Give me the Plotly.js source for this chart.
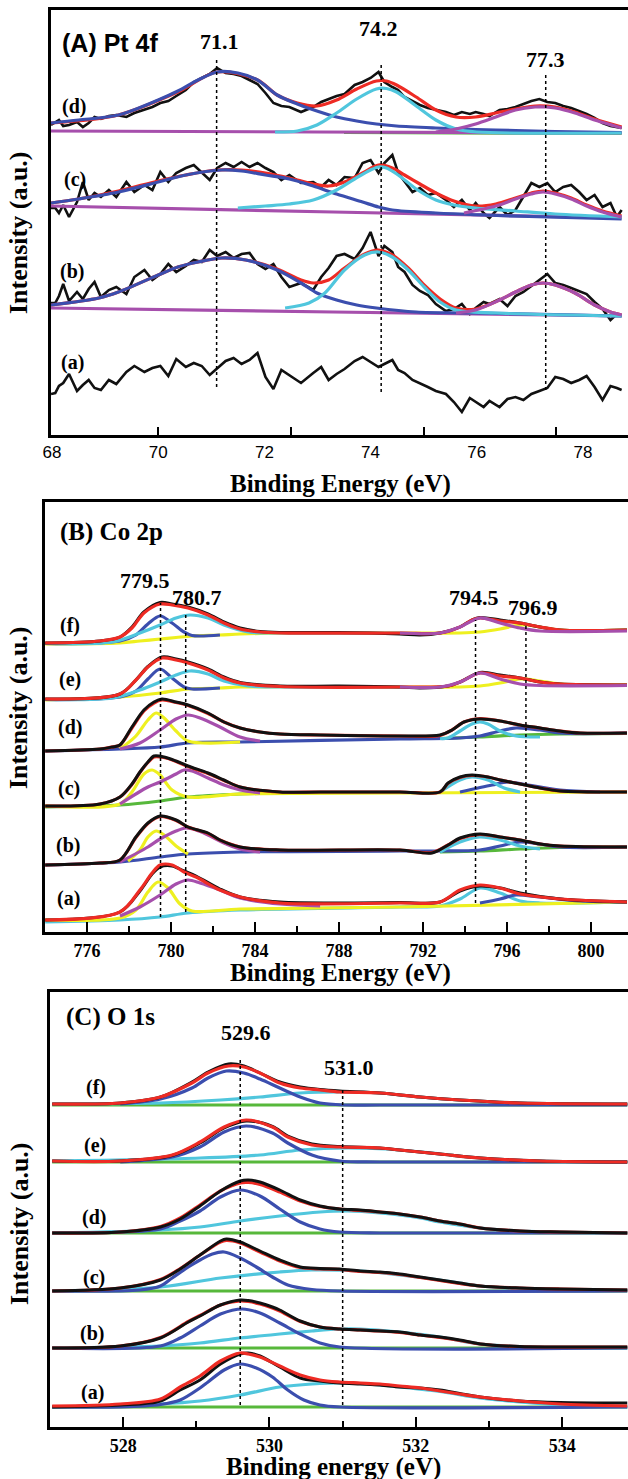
<!DOCTYPE html>
<html>
<head>
<meta charset="utf-8">
<script src="https://cdn.plot.ly/plotly-3.0.1.min.js"></script>
<style>html,body{margin:0;padding:0;background:#fff;}#chart{width:628px;height:1479px;}</style>
</head>
<body>
<div id="chart"></div>
<script>
// ===================== DATA =====================
// ---- Panel A: Pt 4f (binding energy eV, intensity a.u.) ----
const A_X = [67.98,68.06,68.13,68.21,68.32,68.47,68.58,68.69,68.80,68.92,
 69.07,69.21,69.40,69.55,69.74,69.89,70.04,70.19,70.34,70.52,
 70.67,70.82,70.97,71.11,71.27,71.42,71.57,71.72,71.87,72.02,
 72.17,72.32,72.47,72.69,72.92,73.07,73.21,73.36,73.51,73.70,
 73.85,74.00,74.15,74.26,74.41,74.52,74.64,74.79,74.93,75.08,
 75.23,75.42,75.57,75.72,75.87,75.98,76.13,76.24,76.43,76.58,
 76.73,76.88,77.03,77.18,77.33,77.48,77.63,77.78,77.93,78.07,
 78.22,78.37,78.52,78.64,78.73];
const A_d_raw = [307,310,312,306,307,310,305,309,315,313,
 316,317,315,319,322,325,329,331,336,342,
 350,354,358,364,359,358,356,352,348,339,
 329,326,325,320,325,330,333,336,338,347,
 350,354,360,350,345,342,335,331,327,324,
 322,320,317,320,318,320,318,316,322,323,
 325,328,331,333,330,329,326,324,321,318,
 314,309,306,305,304];
const A_c_raw = [224,224,219,227,215,230,250,232,239,235,
 242,235,250,240,247,242,260,250,259,264,
 267,259,252,264,269,265,270,265,269,264,
 260,252,257,249,250,245,252,247,255,254,
 269,272,259,269,277,259,250,240,244,237,
 239,232,225,232,222,229,219,214,225,217,
 222,235,249,245,249,240,245,247,240,232,
 237,225,229,215,222];
const A_b_raw = [129,129,136,148,131,140,133,143,150,135,
 142,145,138,155,162,152,158,168,160,166,
 172,170,182,176,180,174,178,179,168,163,
 168,155,145,149,142,155,164,176,178,173,
 184,200,176,186,180,165,160,147,141,137,
 128,121,123,128,118,124,130,128,133,126,
 136,140,146,152,158,149,147,144,141,138,
 130,123,112,118,116];
const A_a_raw = [38,39,46,49,58,41,47,52,44,42,
 52,48,60,66,60,64,66,56,73,65,
 69,66,57,64,71,74,68,72,79,55,
 43,62,57,49,59,65,52,58,63,71,
 75,70,65,68,72,62,59,52,49,45,
 41,38,30,20,34,30,25,31,25,33,
 35,32,38,41,44,55,53,49,52,56,
 45,32,46,44,42];
// (d) fits
const A_d_base_x = [67.98,73.0,78.73], A_d_base_y = [301,300,299];
const A_d_green_x = [73.5,78.73], A_d_green_y = [299.5,298.5];
const A_d_blue_x = [67.98,68.5,69.25,70.0,70.37,70.75,71.11,71.5,71.87,72.24,72.62,72.99,73.36,73.74,74.11,74.49,75.23,75.98,76.73,77.48,78.73];
const A_d_blue_y = [309,312,317,332,341,352,360,359,352,337,328,321,315,311,308,306,304,302.5,301.5,300.5,299.5];
const A_d_cyan_x = [72.2,72.62,72.99,73.36,73.74,74.11,74.3,74.49,74.86,75.23,75.61,76.0,78.73];
const A_d_cyan_y = [300,301,307,319,333,343,343.5,340,326,312,303,300,299];
const A_d_mag_x = [75.23,75.61,75.98,76.36,76.73,77.1,77.3,77.48,77.85,78.22,78.6,78.73];
const A_d_mag_y = [300,303,308,315,322,325,325,324,319,312,306,304];
const A_d_red_x = [67.98,69.25,70.37,71.11,71.87,72.24,72.62,72.99,73.36,73.74,74.11,74.3,74.49,74.86,75.23,75.61,75.98,76.36,76.73,77.1,77.48,77.85,78.22,78.73];
const A_d_red_y = [309,317,340,360,352,337,329,326,332,343,351,351,347,335,322,315,315,319,323,326,325,320,313,305];
// (c) fits
const A_c_base_x = [67.98,73.3,78.73], A_c_base_y = [226,220,214];
const A_c_blue_x = [67.98,68.5,69.25,70.0,70.52,71.2,71.57,72.02,72.47,72.92,73.36,73.85,74.15,74.41,75.23,76.13,77.33,78.73];
const A_c_blue_y = [229,233,240,250,257,262,261,257,253,246,238,230,225,222,219,217,215,213];
const A_c_cyan_x = [71.5,72.02,72.47,72.92,73.36,73.7,74.0,74.15,74.3,74.52,74.86,75.23,75.57,75.98,76.73,77.48,78.73];
const A_c_cyan_y = [224,226,228,232,242,253,262,265,264,257,243,232,227,224,221,218,215];
const A_c_mag_x = [75.76,76.36,76.73,77.03,77.25,77.48,77.78,78.07,78.37,78.73];
const A_c_mag_y = [219,226,233,238,240,238,233,226,220,215];
const A_c_red_x = [67.98,68.5,69.25,70.0,70.52,71.11,71.57,72.02,72.47,72.92,73.21,73.51,73.85,74.15,74.41,74.64,74.93,75.23,75.57,75.98,76.36,76.73,77.03,77.25,77.48,77.78,78.07,78.37,78.73];
const A_c_red_y = [229,233,241,251,257,262,262,259,254,248,246,250,259,267,264,257,248,239,231,226,228,234,239,241,239,234,227,221,216];
// (b) fits
const A_b_base_x = [67.98,73.3,78.73], A_b_base_y = [124,120,116];
const A_b_blue_x = [67.98,68.88,69.25,70.0,70.37,70.75,71.2,71.65,72.24,72.69,72.99,73.36,73.74,74.11,74.86,75.98,78.73];
const A_b_blue_y = [127,134,140,157,165,170,174,172,162,149,139,132,127,124,120,119,116];
const A_b_cyan_x = [72.39,72.84,73.14,73.51,73.89,74.15,74.41,74.71,75.01,75.31,75.61,76.36,78.73];
const A_b_cyan_y = [124,129,139,162,177,180,175,162,145,130,122,119,116];
const A_b_mag_x = [75.61,75.98,76.43,76.73,77.03,77.25,77.48,77.85,78.22,78.52,78.73];
const A_b_mag_y = [119,122,132,140,147,149,147,139,127,120,117];
const A_b_red_x = [67.98,68.88,69.25,70.0,70.37,70.75,71.2,71.65,72.24,72.69,72.92,73.21,73.51,73.89,74.15,74.41,74.71,75.01,75.31,75.61,75.98,76.43,76.73,77.03,77.25,77.48,77.85,78.22,78.52,78.73];
const A_b_red_y = [127,134,140,157,165,170,174,172,163,152,149,152,164,178,182,177,164,147,133,124,123,132,140,147,149,147,139,127,120,117];

// ---- Panel B: Co 2p ----
const B_f_yel_x = [774.01,777.57,778.52,779.48,780.24,781.0,782.33,783.29,785.19,790.9,793.76,794.71,795.67,796.43,796.9,797.57,798.52,801.71];
const B_f_yel_y = [288,289,291,293,294.5,296,297,298,299,299,299,300,303,306.5,307,305,302,302];
const B_f_blue_x = [774.01,777.57,778.33,778.9,779.48,780.05,780.62,781.0,782.33];
const B_f_blue_y = [288.5,291,297,308,316,309,300,296.5,297];
const B_f_cyan_x = [774.01,777.19,778.52,779.48,780.24,780.9,781.76,782.52,783.67,785.19,790.9];
const B_f_cyan_y = [288.5,290,299,307,314,317,314,307,300,299,299];
const B_f_mag_x = [790.9,792.81,793.76,794.71,795.67,796.62,797.57,801.71];
const B_f_mag_y = [299,299,305,314,309,304,301,301];
const B_f_red_x = [774.01,776.62,777.57,778.14,778.71,779.48,780.05,780.81,781.76,782.52,783.29,784.24,785.19,790.9,792.81,793.76,794.33,794.71,795.67,796.62,797.57,798.52,801.71];
const B_f_red_y = [289,291,295,304,319,328,327,324,317,309,303,300,299,299,299,305,312,314,311,309,305,302,302];
const B_f_raw_x = [774.01,776.62,777.57,778.14,778.71,779.48,780.05,780.81,781.76,782.52,783.29,784.24,785.19,788.0,790.9,791.86,792.81,793.76,794.33,794.71,795.67,796.62,797.57,798.52,801.71];
const B_f_raw_y = [289,291,295,305,320,329.5,328,325,318,310,304,300.5,299.5,299.5,298,297,299,305,312,314.5,312,309,305,302,302];

const B_e_yel_x = [774.01,777.57,779.48,780.81,782.33,783.29,790.9,793.76,794.71,795.67,796.62,797.57,798.52,801.71];
const B_e_yel_y = [232,235,239,243,244,245,245,245,246,249,253,251,248,247];
const B_e_blue_x = [774.01,777.57,778.33,778.9,779.48,780.05,780.62,781.0,782.33];
const B_e_blue_y = [232.5,235,241,253,263,254,245,243,244];
const B_e_cyan_x = [774.01,777.19,778.52,779.48,780.24,780.9,781.76,782.52,783.67,785.19,790.9];
const B_e_cyan_y = [232.5,234,242,250,257,261,258,251,246,245,245];
const B_e_mag_x = [790.9,792.81,793.76,794.71,795.67,796.62,797.57,801.71];
const B_e_mag_y = [245,245,250,259,253,248,246.5,246.5];
const B_e_red_x = [774.01,777.57,778.33,778.9,779.57,780.24,780.81,781.76,782.52,783.29,785.19,790.9,793.19,793.76,794.71,795.67,796.62,797.57,798.52,801.71];
const B_e_red_y = [233,238,252,265,274,272,269,262,254,249,245.5,245,246,250,259,256,254,250,248,247];
const B_e_raw_x = [774.01,777.57,778.33,778.9,779.57,780.24,780.81,781.76,782.52,783.29,785.19,788.0,790.9,791.86,793.19,793.76,794.71,795.67,796.62,797.57,798.52,801.71];
const B_e_raw_y = [233,238,252,265.5,275,273,270,263,255,249.5,246,246,245,244,246,250,259.5,257,254,250,248,247];

const B_d_blue_x = [774.01,777.57,779.48,780.81,783.29,790.9,793.76,794.71,795.67,796.43,797.57,798.52,801.71];
const B_d_blue_y = [181,183,185,189,190,193,194,196,201,204,202,199,199];
const B_d_green_x = [792.81,794.71,796.62,798.52,801.71];
const B_d_green_y = [193.5,195,197,198,198.5];
const B_d_yel_x = [777.57,778.33,778.9,779.29,779.67,780.24,780.81,783.29];
const B_d_yel_y = [183,196,212,219,214,201,191,190];
const B_d_mag_x = [777.57,778.52,779.48,780.24,780.81,781.38,782.33,783.29,784.24];
const B_d_mag_y = [183,189,202,213,217,214,205,195,191];
const B_d_cyan_x = [792.81,793.19,793.76,794.33,794.71,795.09,795.67,796.43,797.57];
const B_d_cyan_y = [193.5,194,201,208,210,208,201,196,195];
const B_d_x = [774.01,776.62,777.19,777.57,778.14,778.71,779.19,779.57,780.24,780.81,781.76,782.52,783.29,784.24,785.19,787.1,790.9,792.81,793.38,793.95,794.71,795.67,796.62,797.57,798.52,799.48,801.71];
const B_d_raw = [181,183,185,187,205,222,230,233,230,227,219,210,204,200,198,197,196,197,202,210,213,211,207,204,201,199,199];
const B_d_fit = [181,183,185,187,204,221,229,232,229.5,226.5,218.5,210,204,200,198,197,196,196.5,202,210,213.5,211,207,204,201,199,199];

const B_c_green_x = [774.01,777.57,779.48,780.81,783.29,785.19];
const B_c_green_y = [125,127,131,135,138,139];
const B_c_yel_x = [774.01,777.57,778.14,778.71,779.1,779.48,780.05,780.81,783.29,790.9,801.71];
const B_c_yel_y = [126,128,140,158,162,157,142,135,138,139,140];
const B_c_mag_x = [777.57,778.9,779.48,780.24,780.62,781.0,781.76,782.52,783.29,784.24];
const B_c_mag_y = [128,145,150,158,162,161,154,147,142,139];
const B_c_cyan_x = [792.81,793.76,794.33,795.09,795.86,796.62];
const B_c_cyan_y = [140,152,155,152,144,140];
const B_c_blue_x = [793.76,795.29,796.05,797.0,798.52,800.43];
const B_c_blue_y = [140,147,150,147,142,140];
const B_c_x = [774.01,776.62,777.57,778.14,778.52,778.9,779.19,779.67,780.24,780.81,781.76,782.52,783.29,785.19,787.1,790.9,792.81,793.19,793.76,794.33,795.09,795.67,796.62,797.57,798.52,801.71];
const B_c_raw = [126,128,135,148,160,170,176,175,171,166,159,152,145,140,140,140,140,149,155,157,155,152,148,144,141,140];
const B_c_fit = [126,128,135,147.5,159.5,169.5,175,174.5,170.5,165.5,158.5,151.5,145,140,140,140,140,148.5,154.5,156.5,155,152,148,144,141,140];

const B_b_blue_x = [774.01,777.57,779.48,780.81,783.29,790.9,792.81,794.71,795.67,796.62,797.57,798.52,801.71];
const B_b_blue_y = [67,70,75,78,80,81,81,82,86,90,88,85,85];
const B_b_green_x = [792.81,794.71,796.62,798.52,801.71];
const B_b_green_y = [80,81,83,84.5,85];
const B_b_yel_x = [777.95,778.52,778.9,779.29,779.67,780.24,780.81];
const B_b_yel_y = [71,82,95,101,97,86,78];
const B_b_mag_x = [777.57,778.9,779.48,780.24,780.71,781.19,781.76,782.52,783.29,784.24];
const B_b_mag_y = [70,85,93,101,104,102,97,89,83,80];
const B_b_cyan_x = [792.81,793.76,794.71,795.67,796.62,797.57];
const B_b_cyan_y = [80,90,95,92,86,83];
const B_b_x = [774.01,776.62,777.57,778.33,778.9,779.48,780.24,780.81,781.76,782.33,783.29,785.19,790.9,792.43,793.19,793.76,794.71,795.67,796.62,797.57,798.52,801.71];
const B_b_raw = [67,69,72,95,109,116,112,105,99,92,85,82,82,79,87,94,98,95,92,88,86,85];
const B_b_fit = [67,69,72,94.5,108.5,115.5,111.5,105,98.5,92,85,82,82,79.5,87,93.5,97.5,95,92,88,86,85];

const B_a_cyan_x = [774.01,777.57,779.48,780.81,783.29,790.9,792.81,793.76,794.71,795.67,796.62,797.57,801.71];
const B_a_cyan_y = [10,12,15,19,22,25,26,33,44,39,31,29,30];
const B_a_yel_x = [774.01,777.57,778.33,778.9,779.38,779.86,780.43,781.0,783.29,790.9,801.71];
const B_a_yel_y = [12,14,22,40,50,44,28,21,23,25,30];
const B_a_mag_x = [777.57,778.52,779.48,780.24,780.81,781.38,782.33,783.29,785.19,787.1];
const B_a_mag_y = [16,25,37,48,52,49,42,34,28,26];
const B_a_blue_x = [794.71,795.67,796.43,797.57,799.48,801.71];
const B_a_blue_y = [29,33,37,35,31,30];
const B_a_x = [774.01,777.57,778.52,779.1,779.48,780.05,780.62,781.19,782.33,783.29,785.19,790.9,792.81,793.76,794.71,795.67,796.62,798.52,801.71];
const B_a_fit = [12,20,42,59,67,67,60,55,42,35,29,29,30,42,47,44,38,33,30];
const B_a_raw = [12,20,41,58,65,66,61,56,43,35,30,29.5,30,41,46,44,39,33,30];

// ---- Panel C: O 1s ----
const C_ends = [527.03,534.89];
const C_f_base = [322,322], C_e_base = [265,265], C_d_base = [194,194], C_c_base = [136,136], C_b_base = [79,79], C_a_base = [20,20];
const C_f_blue_x = [527.96,528.51,528.94,529.16,529.41,529.65,529.87,530.14,530.42,530.69,531.02,531.51,534.89];
const C_f_blue_y = [323,328,339,349,356,354,348,339,330,324,322,322,322];
const C_f_cyan_x = [527.03,528.51,529.33,529.87,530.42,530.96,531.51,532.06,532.6,533.42,534.89];
const C_f_cyan_y = [323,324,327,330,334,335,334,330,327,324,323];
const C_f_x = [527.03,527.96,528.51,528.94,529.16,529.44,529.65,529.87,530.14,530.42,530.69,530.96,531.51,532.06,532.6,533.42,534.89];
const C_f_fit = [323,324,330,344,354,361,360,354,344,339,337,335,334,330,327,324,323];
const C_f_raw = [323,324,330,345,355,363,361,354,345,340,337.5,336,334,330,327,324,323];

const C_e_blue_x = [527.96,528.67,529.05,529.38,529.68,530.04,530.25,530.58,530.96,531.51,534.89];
const C_e_blue_y = [265,270,280,295,301,294,284,272,266,265,265];
const C_e_cyan_x = [527.03,529.05,529.87,530.42,531.07,531.78,532.33,532.88,533.7,534.89];
const C_e_cyan_y = [266,269,272,277,279,277,273,269,266,265];
const C_e_x = [527.03,527.96,528.67,529.05,529.38,529.68,530.04,530.25,530.58,530.96,531.51,531.78,532.33,532.88,533.7,534.89];
const C_e_fit = [266,266,272,285,300,307,300,290,282,280,279,277,273,269,266,265];
const C_e_raw = [266,266,271.5,284,299,306,300.5,291,283,280.5,279,277,273,269,266,265];

const C_d_blue_x = [527.03,528.51,528.78,529.05,529.33,529.6,529.87,530.14,530.42,530.69,530.96,531.51,534.89];
const C_d_blue_y = [194,198,206,216,230,237,231,218,205,198,195,194,194];
const C_d_cyan_x = [527.03,528.51,529.05,529.6,530.14,530.69,531.07,531.51,532.06,532.33,532.88,533.42,534.89];
const C_d_cyan_y = [194,197,200,206,211,215,216,214,209,205,199,196,194];
const C_d_x = [527.03,527.96,528.51,528.78,529.05,529.33,529.6,529.71,529.87,530.14,530.42,530.69,530.96,531.24,531.51,531.78,532.06,532.33,532.6,532.88,533.42,533.97,534.89];
const C_d_raw = [194,195,200,208,221,236,246,247,245,237,227,221,218,217,215,213,210,206,203,199,196,195,194];
const C_d_fit = [194,195,200.5,209,222,236,244,244.5,242.5,235,226,220.5,218,216.5,215,213,210,206,203,199,196,195,194];

const C_c_blue_x = [527.03,528.23,528.51,528.67,528.89,529.05,529.22,529.38,529.6,529.82,530.04,530.25,530.58,530.96,534.89];
const C_c_blue_y = [136,137,141,149,160,167,173,175,169,160,150,142,137.5,136,136];
const C_c_cyan_x = [527.03,528.51,529.33,530.14,530.58,531.24,531.78,532.33,532.88,533.7,534.89];
const C_c_cyan_y = [136,140,149,155,157,156,152,147,141,138,137];
const C_c_x = [527.03,527.96,528.51,528.78,529.05,529.33,529.41,529.6,529.87,530.14,530.42,530.69,530.96,531.24,531.51,531.78,532.06,532.33,532.6,532.88,533.42,533.97,534.89];
const C_c_raw = [136,139,147,158,172,186,188,185,176,167,160,158.5,158,156,155,153,150,147,144,141,139,138,137];
const C_c_fit = [136,139,147.5,158.5,172,185,186.5,184,175,166,159.5,158,157.5,155.5,154.5,152.5,149.5,146.5,143.5,141,139,138,137];

const C_b_blue_x = [527.03,528.51,528.78,529.05,529.33,529.63,529.87,530.14,530.42,530.69,530.96,534.89];
const C_b_blue_y = [79,81,89,101,113,118,114,104,93,84,80,79];
const C_b_cyan_x = [527.03,528.51,529.05,529.6,530.14,530.58,530.96,531.24,531.78,532.33,532.88,533.42,534.89];
const C_b_cyan_y = [79,81,84,89,93,96,98,98,95,90,83,80.5,79];
const C_b_x = [527.03,527.96,528.51,528.89,529.05,529.33,529.6,529.71,529.87,530.04,530.14,530.42,530.69,530.96,531.24,531.51,531.78,532.06,532.33,532.6,532.88,533.42,534.89];
const C_b_raw = [79,81,89,105,111,122,127,126.5,124,120,117,106,100,98,97,96,95,92,90,87,83,80.5,80];
const C_b_fit = [79,81,89.5,105.5,111.5,122,126,125.5,123,119,116,105.5,100,98,97,96,94.5,92,89.5,86.5,83,80.5,80];

const C_a_blue_x = [527.03,527.96,528.51,528.78,529.05,529.16,529.38,529.6,529.82,530.04,530.25,530.47,530.69,530.96,534.89];
const C_a_blue_y = [20,20,22.5,27,39,45,57,63,59,50,37,27,22,20,20];
const C_a_cyan_x = [527.03,528.51,529.05,529.6,530.14,530.58,531.02,531.51,531.78,532.33,532.88,533.42,533.97,534.89];
const C_a_cyan_y = [20,23,26,32,40,43,44,42,40,35.5,29,25,22,20];
const C_a_x = [527.03,527.96,528.51,528.78,529.05,529.33,529.6,529.71,529.87,530.14,530.42,530.69,530.96,531.24,531.51,531.78,532.06,532.33,532.6,532.88,533.42,533.97,534.89];
const C_a_raw = [20,22,26,37,47,63,73,74,71,60,49,46,44,43,42,40,39,37,33.5,30,26,24.5,24];
const C_a_fit = [21,23,28,40,51,66,74,73,70,61,52,47,45,44,43,41,39,36,33,30,26,23,21];

// Peak positions and labels
const PEAKS_A = [71.1, 74.2, 77.3];
const PEAKS_B = [779.5, 780.7, 794.5, 796.9];
const PEAKS_C = [529.6, 531.0];
const LABELS_A = ['71.1','74.2','77.3'];
const LABELS_B = ['779.5','780.7','794.5','796.9'];
const LABELS_C = ['529.6','531.0'];
const SAMPLES_A = ['(d)','(c)','(b)','(a)'];
const SAMPLES_BC = ['(f)','(e)','(d)','(c)','(b)','(a)'];
const TICKS_A = [68,70,72,74,76,78];
const MARKS_A = [70,72.5,75,77.5];

// ===================== STYLE =====================
const COL = {k:'#111111', red:'#ee2b24', blue:'#3b4eae', cyan:'#50c6dd', mag:'#a64fac', green:'#57b83b', yel:'#eef020'};
const traces = [];
function L(x, y, c, w, xa, ya, shape){
  traces.push({type:'scatter', mode:'lines', x:x, y:y, xaxis:xa, yaxis:ya,
    line:{color:c, width:w, shape:shape||'spline', smoothing:0.9}, hoverinfo:'skip', showlegend:false});
}
const FW = 3.2;
// ---- Panel A ----
const pa = ['x','y'];
L(A_d_green_x, A_d_green_y, COL.green, FW, ...pa);
L(A_d_base_x, A_d_base_y, COL.mag, FW, ...pa);
L(A_X, A_d_raw, COL.k, 2.6, pa[0], pa[1], 'linear');
L(A_d_red_x, A_d_red_y, COL.red, FW, ...pa);
L(A_d_blue_x, A_d_blue_y, COL.blue, FW, ...pa);
L(A_d_cyan_x, A_d_cyan_y, COL.cyan, FW, ...pa);
L(A_d_mag_x, A_d_mag_y, COL.mag, FW, ...pa);
L(A_X, A_c_raw, COL.k, 2.6, pa[0], pa[1], 'linear');
L(A_c_base_x, A_c_base_y, COL.mag, FW, ...pa);
L(A_c_red_x, A_c_red_y, COL.red, FW, ...pa);
L(A_c_blue_x, A_c_blue_y, COL.blue, FW, ...pa);
L(A_c_cyan_x, A_c_cyan_y, COL.cyan, FW, ...pa);
L(A_c_mag_x, A_c_mag_y, COL.mag, FW, ...pa);
L(A_X, A_b_raw, COL.k, 2.6, pa[0], pa[1], 'linear');
L(A_b_base_x, A_b_base_y, COL.mag, FW, ...pa);
L(A_b_red_x, A_b_red_y, COL.red, FW, ...pa);
L(A_b_blue_x, A_b_blue_y, COL.blue, FW, ...pa);
L(A_b_cyan_x, A_b_cyan_y, COL.cyan, FW, ...pa);
L(A_b_mag_x, A_b_mag_y, COL.mag, FW, ...pa);
L(A_X, A_a_raw, COL.k, 2.6, pa[0], pa[1], 'linear');
traces.push({type:'scatter', mode:'lines', x:[], y:[], xaxis:'x4', yaxis:'y', showlegend:false, hoverinfo:'skip'});

// ---- Panel B ----
const pb = ['x2','y2'];
L(B_f_yel_x, B_f_yel_y, COL.yel, FW, ...pb);
L(B_f_blue_x, B_f_blue_y, COL.blue, FW, ...pb);
L(B_f_cyan_x, B_f_cyan_y, COL.cyan, FW, ...pb);
L(B_f_raw_x, B_f_raw_y, COL.k, 3, ...pb);
L(B_f_red_x, B_f_red_y, COL.red, FW, ...pb);
L(B_f_mag_x, B_f_mag_y, COL.mag, FW, ...pb);
L(B_e_yel_x, B_e_yel_y, COL.yel, FW, ...pb);
L(B_e_blue_x, B_e_blue_y, COL.blue, FW, ...pb);
L(B_e_cyan_x, B_e_cyan_y, COL.cyan, FW, ...pb);
L(B_e_raw_x, B_e_raw_y, COL.k, 3, ...pb);
L(B_e_red_x, B_e_red_y, COL.red, FW, ...pb);
L(B_e_mag_x, B_e_mag_y, COL.mag, FW, ...pb);
L(B_d_green_x, B_d_green_y, COL.green, FW, ...pb);
L(B_d_blue_x, B_d_blue_y, COL.blue, FW, ...pb);
L(B_d_yel_x, B_d_yel_y, COL.yel, FW, ...pb);
L(B_d_mag_x, B_d_mag_y, COL.mag, FW, ...pb);
L(B_d_cyan_x, B_d_cyan_y, COL.cyan, FW, ...pb);
L(B_d_x, B_d_fit, COL.red, FW, ...pb);
L(B_d_x, B_d_raw, COL.k, 3, ...pb);
L(B_c_green_x, B_c_green_y, COL.green, FW, ...pb);
L(B_c_yel_x, B_c_yel_y, COL.yel, FW, ...pb);
L(B_c_mag_x, B_c_mag_y, COL.mag, FW, ...pb);
L(B_c_blue_x, B_c_blue_y, COL.blue, FW, ...pb);
L(B_c_cyan_x, B_c_cyan_y, COL.cyan, FW, ...pb);
L(B_c_x, B_c_fit, COL.red, FW, ...pb);
L(B_c_x, B_c_raw, COL.k, 3, ...pb);
L(B_b_green_x, B_b_green_y, COL.green, FW, ...pb);
L(B_b_blue_x, B_b_blue_y, COL.blue, FW, ...pb);
L(B_b_yel_x, B_b_yel_y, COL.yel, FW, ...pb);
L(B_b_mag_x, B_b_mag_y, COL.mag, FW, ...pb);
L(B_b_cyan_x, B_b_cyan_y, COL.cyan, FW, ...pb);
L(B_b_x, B_b_fit, COL.red, FW, ...pb);
L(B_b_x, B_b_raw, COL.k, 3, ...pb);
L(B_a_cyan_x, B_a_cyan_y, COL.cyan, FW, ...pb);
L(B_a_yel_x, B_a_yel_y, COL.yel, FW, ...pb);
L(B_a_mag_x, B_a_mag_y, COL.mag, FW, ...pb);
L(B_a_blue_x, B_a_blue_y, COL.blue, FW, ...pb);
L(B_a_x, B_a_raw, COL.k, 3, ...pb);
L(B_a_x, B_a_fit, COL.red, FW, ...pb);

// ---- Panel C ----
const pc = ['x3','y3'];
function cset(base, cyx, cyy, blx, bly, x, raw, fit, redTop){
  L(C_ends, base, COL.green, FW, ...pc);
  L(cyx, cyy, COL.cyan, FW, ...pc);
  L(blx, bly, COL.blue, FW, ...pc);
  if (redTop){ L(x, raw, COL.k, 3, ...pc); L(x, fit, COL.red, FW, ...pc); }
  else { L(x, fit, COL.red, FW, ...pc); L(x, raw, COL.k, 3, ...pc); }
}
cset(C_f_base, C_f_cyan_x, C_f_cyan_y, C_f_blue_x, C_f_blue_y, C_f_x, C_f_raw, C_f_fit, true);
cset(C_e_base, C_e_cyan_x, C_e_cyan_y, C_e_blue_x, C_e_blue_y, C_e_x, C_e_raw, C_e_fit, true);
cset(C_d_base, C_d_cyan_x, C_d_cyan_y, C_d_blue_x, C_d_blue_y, C_d_x, C_d_raw, C_d_fit, false);
cset(C_c_base, C_c_cyan_x, C_c_cyan_y, C_c_blue_x, C_c_blue_y, C_c_x, C_c_raw, C_c_fit, false);
cset(C_b_base, C_b_cyan_x, C_b_cyan_y, C_b_blue_x, C_b_blue_y, C_b_x, C_b_raw, C_b_fit, false);
cset(C_a_base, C_a_cyan_x, C_a_cyan_y, C_a_blue_x, C_a_blue_y, C_a_x, C_a_raw, C_a_fit, true);

// ===================== LAYOUT =====================
const W = 628, H = 1479;
const px = v => v / W, py = v => 1 - v / H;
const SERIF = 'Liberation Serif, Times New Roman, serif';
const SANS = 'Liberation Sans, Arial, sans-serif';
const baseY = {showline:true, linecolor:'black', linewidth:3, showticklabels:false, ticks:'', showgrid:false, zeroline:false, fixedrange:true};
const baseX = {showline:true, mirror:true, linecolor:'black', linewidth:3, showgrid:false, zeroline:false, fixedrange:true,
  ticks:'inside', tickcolor:'black', tickwidth:2};

const layout = {
  width:W, height:H, margin:{l:0, r:0, t:0, b:0}, paper_bgcolor:'white', plot_bgcolor:'white', showlegend:false,
  xaxis: Object.assign({}, baseX, {domain:[px(51),1], range:[67.98,78.85], anchor:'y', tickmode:'array', tickvals:TICKS_A,
    ticks:'', tickfont:{family:SANS, size:17, color:'black'}}),
  xaxis4: {overlaying:'x', anchor:'y', range:[67.98,78.85], tickmode:'array', tickvals:MARKS_A, ticks:'inside',
    ticklen:8, tickwidth:2, tickcolor:'black', showticklabels:false, showline:false, showgrid:false, zeroline:false, side:'bottom'},
  yaxis: Object.assign({}, baseY, {domain:[py(435), py(10)], range:[-3,422], anchor:'x'}),
  xaxis2: Object.assign({}, baseX, {domain:[px(45),1], range:[774.0,801.76], anchor:'y2', tick0:776, dtick:4, ticklen:10,
    minor:{dtick:2, tick0:776, ticks:'inside', ticklen:6, tickwidth:2, tickcolor:'black', showgrid:false},
    tickfont:{family:SERIF, size:18, color:'black', weight:700}}),
  yaxis2: Object.assign({}, baseY, {domain:[py(932), py(502)], range:[0,430], anchor:'x2'}),
  xaxis3: Object.assign({}, baseX, {domain:[px(50),1], range:[527.0,534.9], anchor:'y3', tick0:528, dtick:2, ticklen:10,
    minor:{dtick:1, tick0:528, ticks:'inside', ticklen:6, tickwidth:2, tickcolor:'black', showgrid:false},
    tickfont:{family:SERIF, size:18, color:'black', weight:700}}),
  yaxis3: Object.assign({}, baseY, {domain:[py(1427), py(992)], range:[0,435], anchor:'x3'}),
  annotations: [], shapes: []
};

const A = layout.annotations, S = layout.shapes;
function ann(o){ A.push(Object.assign({showarrow:false, xanchor:'center', yanchor:'middle'}, o)); }
ann({xref:'paper', yref:'paper', x:px(60), y:py(43), xanchor:'left', text:'(A) Pt 4f', font:{family:SANS, size:25, color:'black', weight:700}});
ann({xref:'paper', yref:'paper', x:px(58), y:py(532), xanchor:'left', text:'(B) Co 2p', font:{family:SERIF, size:25, color:'black', weight:700}});
ann({xref:'paper', yref:'paper', x:px(64), y:py(1017), xanchor:'left', text:'(C) O 1s', font:{family:SERIF, size:25, color:'black', weight:700}});
const yTitleY = [233, 708, 1224];
yTitleY.forEach(v => ann({xref:'paper', yref:'paper', x:px(19), y:py(v), textangle:-90, text:'Intensity (a.u.)', font:{family:SERIF, size:26, color:'black', weight:700}}));
ann({xref:'paper', yref:'paper', x:px(340), y:py(484), text:'Binding Energy (eV)', font:{family:SERIF, size:25, color:'black', weight:700}});
ann({xref:'paper', yref:'paper', x:px(340), y:py(973), text:'Binding Energy (eV)', font:{family:SERIF, size:25, color:'black', weight:700}});
ann({xref:'paper', yref:'paper', x:px(333), y:py(1467), text:'Binding energy (eV)', font:{family:SERIF, size:25, color:'black', weight:700}});

const lblFont = {family:SERIF, size:20, color:'black', weight:700};
const pkFont = {family:SERIF, size:22, color:'black', weight:700};
const A_lblPos = [[68.41,325],[68.44,252],[68.38,160],[68.38,69]];
SAMPLES_A.forEach((t,i) => ann({xref:'x', yref:'y', x:A_lblPos[i][0], y:A_lblPos[i][1], text:t, font:lblFont}));
const B_lblPos = [[775.2,307],[775.2,253],[775.2,205],[775.15,144],[775.1,87],[775.1,34]];
SAMPLES_BC.forEach((t,i) => ann({xref:'x2', yref:'y2', x:B_lblPos[i][0], y:B_lblPos[i][1], text:t, font:lblFont}));
const C_lblPos = [[527.63,340],[527.62,282],[527.6,210],[527.6,150],[527.58,94],[527.58,35]];
SAMPLES_BC.forEach((t,i) => ann({xref:'x3', yref:'y3', x:C_lblPos[i][0], y:C_lblPos[i][1], text:t, font:lblFont}));

const A_pk = {lx:[71.15,74.15,77.3], ly:[390,403,372], y0:[45,40,42], y1:[374,370,357]};
PEAKS_A.forEach((p,i) => {
  ann({xref:'x', yref:'y', x:A_pk.lx[i], y:A_pk.ly[i], text:LABELS_A[i], font:pkFont});
  S.push({type:'line', xref:'x', yref:'y', x0:p, x1:p, y0:A_pk.y0[i], y1:A_pk.y1[i], line:{color:'black', width:1.5, dash:'dot'}});
});
const B_pk = {lx:[778.75,781.25,794.45,797.25], ly:[352,335,335,325], y0:[15,20,29,39], y1:[329,319,312,309]};
PEAKS_B.forEach((p,i) => {
  ann({xref:'x2', yref:'y2', x:B_pk.lx[i], y:B_pk.ly[i], text:LABELS_B[i], font:pkFont});
  S.push({type:'line', xref:'x2', yref:'y2', x0:p, x1:p, y0:B_pk.y0[i], y1:B_pk.y1[i], line:{color:'black', width:1.5, dash:'dot'}});
});
const C_pk = {lx:[529.68,531.09], ly:[395,360], y0:[22,22], y1:[367,339]};
PEAKS_C.forEach((p,i) => {
  ann({xref:'x3', yref:'y3', x:C_pk.lx[i], y:C_pk.ly[i], text:LABELS_C[i], font:pkFont});
  S.push({type:'line', xref:'x3', yref:'y3', x0:p, x1:p, y0:C_pk.y0[i], y1:C_pk.y1[i], line:{color:'black', width:1.5, dash:'dot'}});
});

Plotly.newPlot('chart', traces, layout, {staticPlot:true, displayModeBar:false});
</script>
</body>
</html>
